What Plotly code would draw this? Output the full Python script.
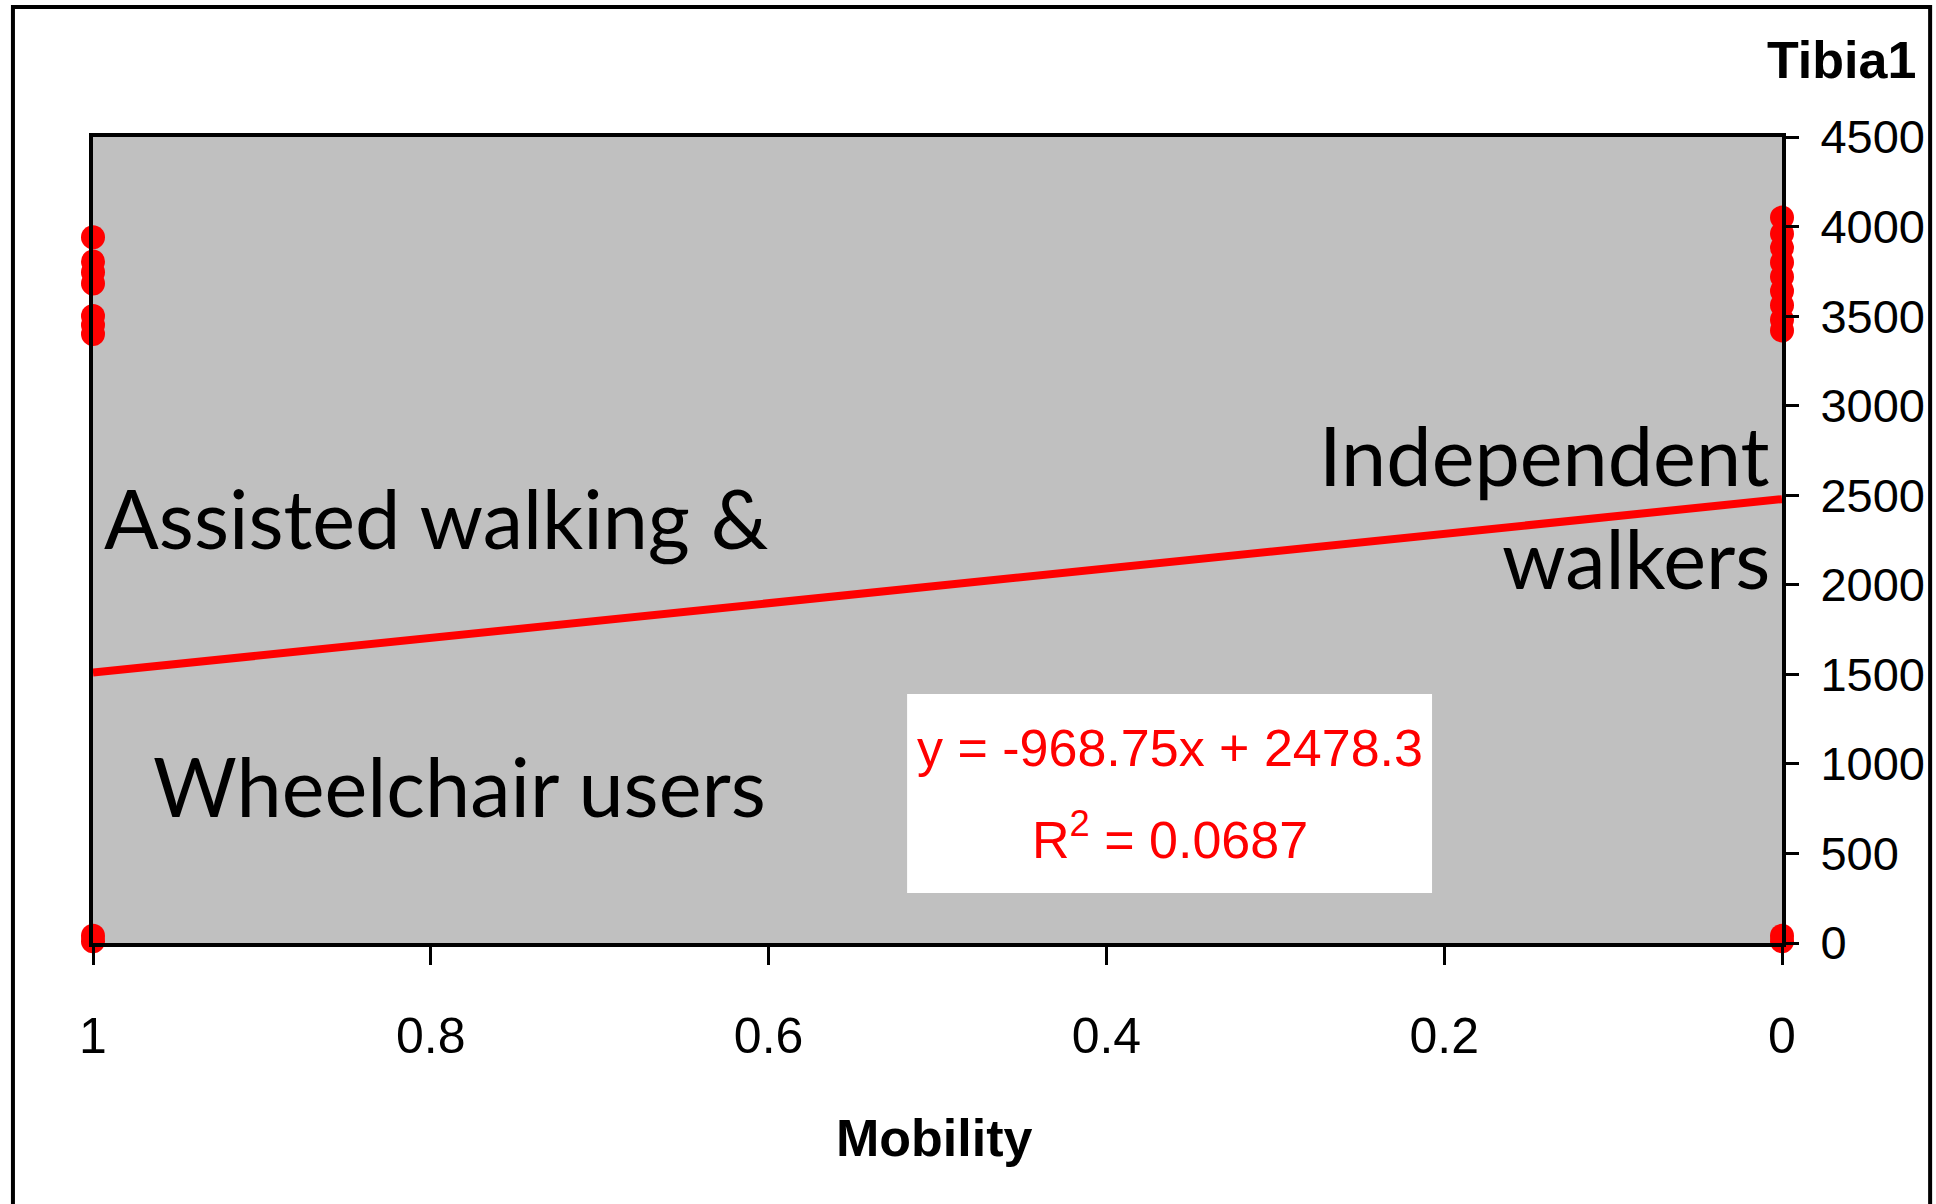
"""Tibia1 against mobility score, with linear trend line."""

import plotly.graph_objects as go

# mobility score 1 = assisted walking & wheelchair users, 0 = independent walkers
mobility_assisted = [1, 1, 1, 1, 1, 1, 1, 1, 1]
tibia_assisted = [3940, 3805, 3745, 3682, 3500, 3450, 3400, 40, 10]

mobility_independent = [0, 0, 0, 0, 0, 0, 0, 0, 0, 0, 0]
tibia_independent = [4050, 3960, 3880, 3800, 3720, 3640, 3560, 3480, 3420, 40, 10]

# trend line as printed on the chart: y = -968.75x + 2478.3
trend_x = [1, 0]
trend_y = [1509.55, 2478.3]
trend_label = 'y = -968.75x + 2478.3'
r2_label = 'R<sup>2</sup> = 0.0687'

x_ticks = [1, 0.8, 0.6, 0.4, 0.2, 0]
y_ticks = [0, 500, 1000, 1500, 2000, 2500, 3000, 3500, 4000, 4500]

ARIAL = 'Liberation Sans, Arial, sans-serif'
CALIBRI = 'Lato, Carlito, Calibri, sans-serif'
RED = '#FF0000'

fig = go.Figure()
fig.add_trace(go.Scatter(
    x=mobility_assisted + mobility_independent,
    y=tibia_assisted + tibia_independent,
    mode='markers',
    marker=dict(color=RED, size=24, line=dict(width=0)),
    cliponaxis=False,
    showlegend=False,
))
fig.add_trace(go.Scatter(
    x=trend_x, y=trend_y, mode='lines',
    line=dict(color=RED, width=8),
    showlegend=False,
))

fig.update_layout(
    width=1936, height=1204,
    margin=dict(l=93, r=154, t=137, b=261),
    paper_bgcolor='white',
    plot_bgcolor='#C0C0C0',
    font=dict(family=ARIAL, color='black', size=48),
)
fig.update_xaxes(
    range=[1, 0], tickvals=x_ticks, ticktext=[f'{v:g}' for v in x_ticks],
    ticks='outside', ticklen=18, tickwidth=3, tickcolor='black',
    showline=True, linewidth=4, linecolor='black', mirror=True,
    showgrid=False, zeroline=False, ticklabelstandoff=28,
    tickfont=dict(size=50), automargin=False,
)
fig.update_yaxes(
    range=[0, 4500], side='right', tickvals=y_ticks,
    ticks='outside', ticklen=13, tickwidth=3, tickcolor='black',
    showline=True, linewidth=4, linecolor='black', mirror=True,
    showgrid=False, zeroline=False, ticklabelstandoff=12,
    tickfont=dict(size=47), automargin=False,
)

# outer chart frame
fig.add_shape(type='rect', xref='paper', yref='paper',
              x0=-0.0474, x1=1.0877, y0=-0.34, y1=1.1613,
              line=dict(color='black', width=4), layer='below')
# equation box
fig.add_shape(type='rect', xref='paper', yref='paper',
              x0=0.482, x1=0.7928, y0=0.062, y1=0.309,
              fillcolor='white', line=dict(width=0))

annotations = [
    dict(text='Assisted walking &', x=0.0053, y=0.5285, xanchor='left',
         font=dict(family=CALIBRI, size=81)),
    dict(text='Wheelchair users', x=0.0343, y=0.196, xanchor='left',
         font=dict(family=CALIBRI, size=81)),
    dict(text='Independent', x=0.994, y=0.6055, xanchor='right',
         font=dict(family=CALIBRI, size=81)),
    dict(text='walkers', x=0.994, y=0.4777, xanchor='right',
         font=dict(family=CALIBRI, size=81)),
    dict(text=trend_label, x=0.6377, y=0.2419, xanchor='center',
         font=dict(family=ARIAL, size=52, color=RED)),
    dict(text=r2_label, x=0.6377, y=0.1328, xanchor='center',
         font=dict(family=ARIAL, size=52, color=RED)),
    dict(text='<b>Tibia1</b>', x=1.0805, y=1.095, xanchor='right',
         font=dict(family=ARIAL, size=52)),
    dict(text='<b>Mobility</b>', x=0.498, y=-0.242, xanchor='center',
         font=dict(family=ARIAL, size=52)),
]
for a in annotations:
    fig.add_annotation(xref='paper', yref='paper', yanchor='middle',
                       showarrow=False, **a)

# drop the browser's default body margin so the figure sits at the page corner
fig.write_html('out.html', config={'displayModeBar': False},
               post_script="document.body.style.margin='0';")
